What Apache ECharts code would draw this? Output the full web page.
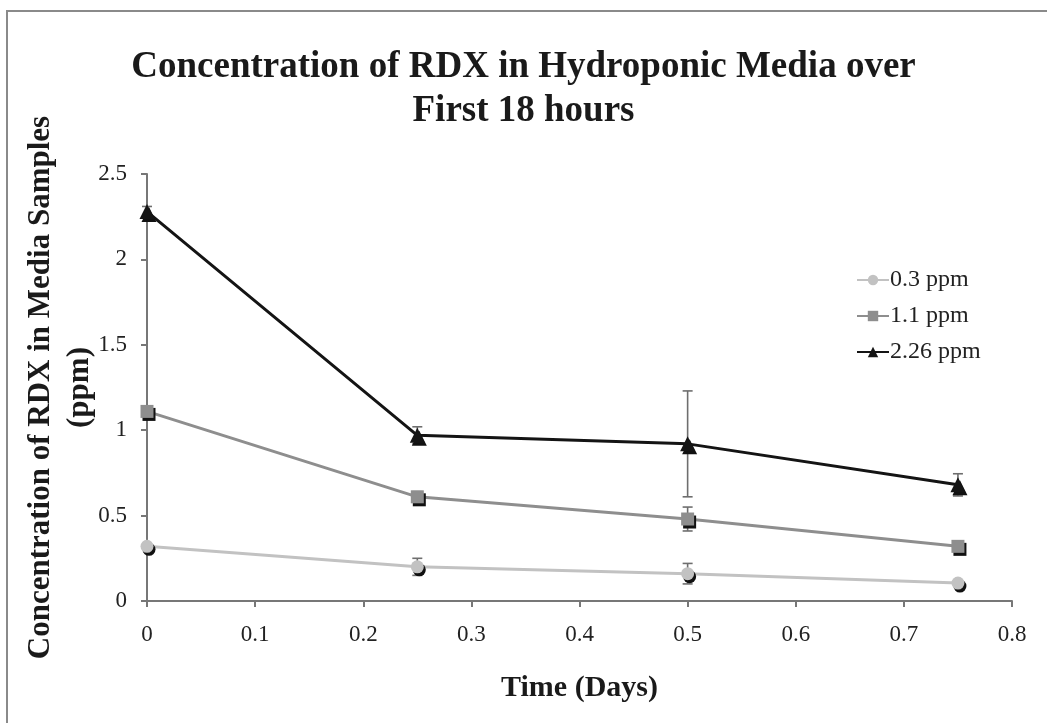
<!DOCTYPE html>
<html><head><meta charset="utf-8">
<script src="https://cdn.jsdelivr.net/npm/echarts@6/dist/echarts.min.js"></script>
<style>html,body{margin:0;padding:0;background:#fff}#c{width:1047px;height:723px}</style>
</head><body><div id="c"></div>
<script>
var times = [0, 0.25, 0.5, 0.75];
var seriesNames = ['0.3 ppm', '1.1 ppm', '2.26 ppm'];
var vals03 = [0.32, 0.20, 0.16, 0.105];
var err03 = [0.01, 0.05, 0.06, 0.01];
var vals11 = [1.11, 0.61, 0.48, 0.32];
var err11 = [0.02, 0.03, 0.07, 0.02];
var vals226 = [2.28, 0.97, 0.92, 0.68];
var err226 = [0.03, 0.05, 0.31, 0.065];
var xTicks = [0, 0.1, 0.2, 0.3, 0.4, 0.5, 0.6, 0.7, 0.8];
var yTicks = [0, 0.5, 1, 1.5, 2, 2.5];

var colors = ['#c2c2c2', '#8e8e8e', '#141414'];
var symbols = ['circle', 'rect', 'triangle'];
var allVals = [vals03, vals11, vals226];
var allErr = [err03, err11, err226];

function pairs(v){ return times.map(function(t,i){ return [t, v[i]]; }); }
function errData(v,e){ return times.map(function(t,i){ return [t, v[i]-e[i], v[i]+e[i]]; }); }

var series = [];
for (var k = 0; k < 3; k++) {
  series.push({
    type: 'custom', name: seriesNames[k] + ' err', silent: true, z: 1,
    data: errData(allVals[k], allErr[k]),
    renderItem: function (params, api) {
      var x = api.value(0);
      var lo = api.coord([x, api.value(1)]);
      var hi = api.coord([x, api.value(2)]);
      var w = 5;
      var st = { stroke: '#6e6e6e', lineWidth: 1.6 };
      return { type: 'group', children: [
        { type: 'line', shape: { x1: lo[0], y1: lo[1], x2: hi[0], y2: hi[1] }, style: st },
        { type: 'line', shape: { x1: lo[0]-w, y1: lo[1], x2: lo[0]+w, y2: lo[1] }, style: st },
        { type: 'line', shape: { x1: hi[0]-w, y1: hi[1], x2: hi[0]+w, y2: hi[1] }, style: st }
      ]};
    }
  });
}
for (var k = 0; k < 3; k++) {
  series.push({
    type: 'line', name: seriesNames[k], data: pairs(allVals[k]), z: 3,
    symbol: symbols[k], symbolSize: k === 2 ? 15 : 13,
    lineStyle: { color: colors[k], width: 3 },
    itemStyle: { color: colors[k], shadowColor: '#111', shadowBlur: 0, shadowOffsetX: 2, shadowOffsetY: 3 },
    emphasis: { disabled: true }
  });
}

var chart = echarts.init(document.getElementById('c'));
chart.setOption({
  animation: false,
  backgroundColor: '#fff',
  title: {
    text: 'Concentration of RDX in Hydroponic Media over\nFirst 18 hours',
    left: 'center', top: 40,
    textStyle: { fontFamily: 'Liberation Serif', fontWeight: 'bold', fontSize: 37, lineHeight: 44, color: '#1a1a1a' }
  },
  graphic: [{ type: 'rect', shape: { x: 7, y: 11, width: 1060, height: 740 },
    style: { fill: 'none', stroke: '#8a8a8a', lineWidth: 2 }, silent: true }],
  legend: {
    orient: 'vertical', left: 851, top: 263, itemGap: 12, itemWidth: 32, itemHeight: 13,
    data: seriesNames,
    textStyle: { fontFamily: 'Liberation Serif', fontSize: 24, color: '#222', padding: [0,0,0,-4] }
  },
  grid: { left: 147, right: 35, top: 174, bottom: 122, outerBoundsMode: 'none', containLabel: false },
  xAxis: {
    type: 'value', min: 0, max: 0.8, interval: 0.1,
    name: 'Time (Days)', nameLocation: 'middle', nameGap: 72, nameMoveOverlap: false,
    nameTextStyle: { fontFamily: 'Liberation Serif', fontWeight: 'bold', fontSize: 30, color: '#1a1a1a' },
    axisLine: { lineStyle: { color: '#777', width: 2 } },
    axisTick: { show: true, length: 6, lineStyle: { color: '#777', width: 2 } },
    axisLabel: { fontFamily: 'Liberation Serif', fontSize: 23, color: '#222', margin: 22,
      formatter: function(v){ return String(Math.round(v*10)/10); } },
    splitLine: { show: false }
  },
  yAxis: {
    type: 'value', min: 0, max: 2.5, interval: 0.5,
    name: 'Concentration of RDX in Media Samples\n(ppm)', nameLocation: 'middle', nameRotate: 90, nameGap: 48, nameMoveOverlap: false,
    nameTextStyle: { fontFamily: 'Liberation Serif', fontWeight: 'bold', fontSize: 31, lineHeight: 39, color: '#1a1a1a' },
    axisLine: { show: true, lineStyle: { color: '#777', width: 2 } },
    axisTick: { show: true, length: 6, lineStyle: { color: '#777', width: 2 } },
    axisLabel: { fontFamily: 'Liberation Serif', fontSize: 23, color: '#222', margin: 20 },
    splitLine: { show: false }
  },
  series: series
});
</script></body></html>
